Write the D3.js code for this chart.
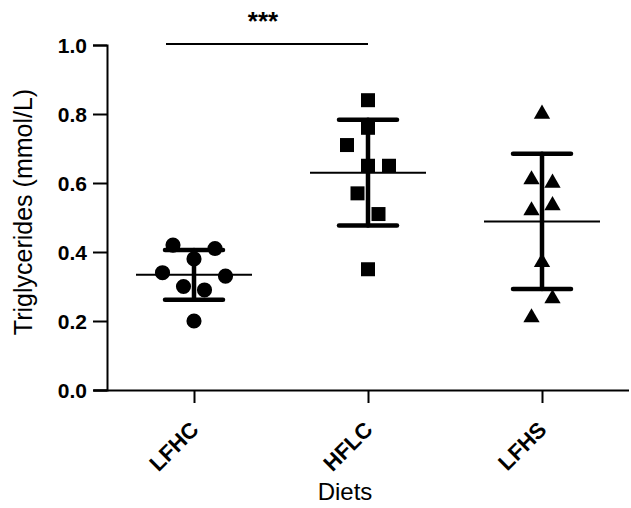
<!DOCTYPE html>
<html>
<head>
<meta charset="utf-8">
<script src="https://cdn.jsdelivr.net/npm/d3@7"></script>
<style>
  body { margin: 0; background: #fff; }
  svg text { font-family: "Liberation Sans", Arial, sans-serif; fill: #000; }
</style>
</head>
<body>
<div id="chart-area"></div>
<script>
// values, in entry order
var diets = ['LFHC', 'HFLC', 'LFHS'];
var lfhc = [0.38, 0.42, 0.41, 0.30, 0.29, 0.34, 0.33, 0.20];
var hflc = [0.84, 0.76, 0.65, 0.71, 0.65, 0.57, 0.51, 0.35];
var lfhs = [0.80, 0.61, 0.60, 0.52, 0.535, 0.37, 0.21, 0.265];
var yTicks = [0, 0.2, 0.4, 0.6, 0.8, 1.0];
var sigPair = ['LFHC', 'HFLC'];
var sigLabel = '***';

var groups = [lfhc, hflc, lfhs];
var markers = [d3.symbolCircle, d3.symbolSquare, d3.symbolTriangle];
var markerSize = [180, 196, 115];

var width = 631, height = 508;
var svg = d3.select('#chart-area').append('svg')
  .attr('width', width)
  .attr('height', height);

var x = d3.scalePoint().domain(diets).range([107, 629]).padding(0.5);
var y = d3.scaleLinear().domain([0, 1]).range([390, 45]);

// axes
var yAxis = svg.append('g')
  .attr('transform', 'translate(107,0)')
  .call(d3.axisLeft(y).tickValues(yTicks).tickFormat(d3.format('.1f')).tickSize(14).tickPadding(6));
yAxis.select('.domain').attr('stroke-width', 2);
yAxis.selectAll('.tick line').attr('stroke-width', 2);
yAxis.selectAll('.tick text')
  .style('font-size', '21px')
  .style('font-weight', 'bold')
  .attr('dy', '0.36em');

var xAxis = svg.append('g')
  .attr('transform', 'translate(0,390)')
  .call(d3.axisBottom(x).tickSizeOuter(0).tickSize(13));
xAxis.select('.domain').attr('stroke-width', 2).attr('d', 'M94,0.5H629');
xAxis.selectAll('.tick line').attr('stroke-width', 2);
xAxis.selectAll('.tick text').remove();

svg.append('g').selectAll('text')
  .data(diets)
  .join('text')
  .attr('transform', d => 'translate(' + (x(d) + 6) + ',431) rotate(-45)')
  .attr('text-anchor', 'end')
  .style('font-size', '22px')
  .style('font-weight', 'bold')
  .text(d => d);

// axis titles
svg.append('text')
  .attr('x', 345)
  .attr('y', 500)
  .attr('text-anchor', 'middle')
  .style('font-size', '24px')
  .text('Diets');

svg.append('text')
  .attr('transform', 'translate(32,212) rotate(-90)')
  .attr('text-anchor', 'middle')
  .style('font-size', '25px')
  .text('Triglycerides (mmol/L)');

// spread points of similar value side by side, like a column scatter
var slot = 21;
function spread(vals) {
  var idx = d3.range(vals.length).sort((a, b) => vals[a] - vals[b]);
  var bins = [];
  var cur = null;
  idx.forEach(i => {
    if (cur && vals[i] - vals[cur[0]] < 0.06) cur.push(i);
    else { cur = [i]; bins.push(cur); }
  });
  var off = new Array(vals.length).fill(0);
  bins.forEach(bin => {
    var members = bin.slice().sort((a, b) => a - b);
    var n = members.length;
    var slots = [];
    if (n % 2 == 1) {
      slots.push(0);
      for (var k = 1; slots.length < n; k++) { slots.push(-k); slots.push(k); }
    } else {
      for (var k = 0.5; slots.length < n; k++) { slots.push(-k); slots.push(k); }
    }
    members.forEach((m, j) => { off[m] = slots[j] * slot; });
  });
  return off;
}

groups.forEach((vals, g) => {
  var cx = x(diets[g]);
  var off = spread(vals);
  var symbol = d3.symbol().type(markers[g]).size(markerSize[g]);

  svg.append('g').selectAll('path')
    .data(vals)
    .join('path')
    .attr('d', symbol)
    .attr('fill', '#000')
    .attr('transform', (d, i) => 'translate(' + (cx + off[i]) + ',' + y(d) + ')');

  var mean = d3.mean(vals);
  var sd = d3.deviation(vals);

  // mean line
  svg.append('line')
    .attr('x1', cx - 58).attr('x2', cx + 58)
    .attr('y1', y(mean)).attr('y2', y(mean))
    .attr('stroke', '#000').attr('stroke-width', 2);

  // SD bar
  var bar = svg.append('g')
    .attr('stroke', '#000')
    .attr('stroke-width', 4.5)
    .attr('stroke-linecap', 'round');
  bar.append('line')
    .attr('x1', cx).attr('x2', cx)
    .attr('y1', y(mean + sd)).attr('y2', y(mean - sd));
  bar.append('line')
    .attr('x1', cx - 29).attr('x2', cx + 29)
    .attr('y1', y(mean + sd)).attr('y2', y(mean + sd));
  bar.append('line')
    .attr('x1', cx - 29).attr('x2', cx + 29)
    .attr('y1', y(mean - sd)).attr('y2', y(mean - sd));
});

// significance bar
svg.append('line')
  .attr('x1', x(sigPair[0]) - 28).attr('x2', x(sigPair[1]))
  .attr('y1', y(1) - 1).attr('y2', y(1) - 1)
  .attr('stroke', '#000').attr('stroke-width', 2);
svg.append('text')
  .attr('x', (x(sigPair[0]) - 28 + x(sigPair[1])) / 2 - 4)
  .attr('y', 30)
  .attr('text-anchor', 'middle')
  .style('font-size', '26px')
  .style('font-weight', 'bold')
  .text(sigLabel);
</script>
</body>
</html>
